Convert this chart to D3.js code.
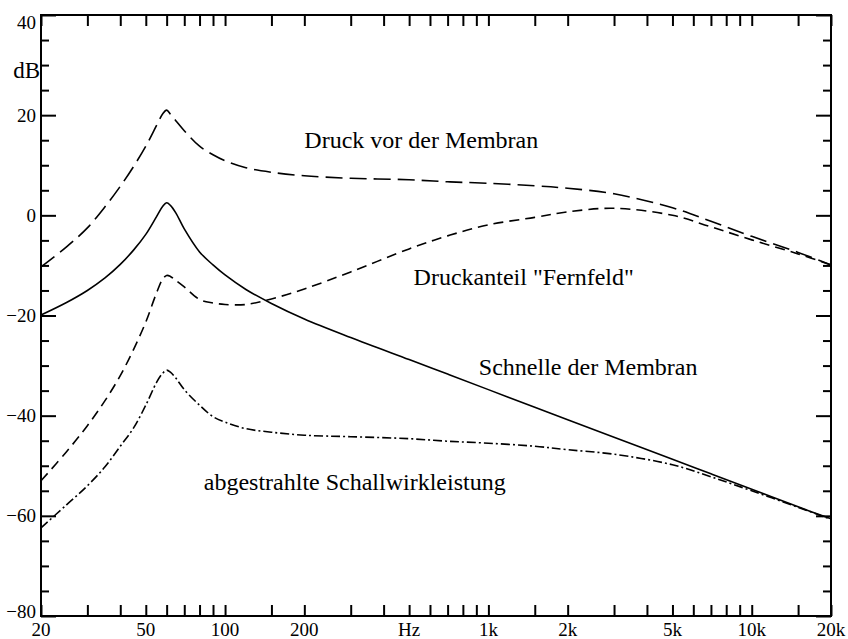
<!DOCTYPE html>
<html>
<head>
<meta charset="utf-8">
<script src="https://cdn.jsdelivr.net/npm/d3@7"></script>
<style>
  html, body { margin: 0; padding: 0; background: #fff; }
  svg { display: block; }
  text { font-family: "Liberation Serif", "Times New Roman", Times, serif; fill: #000; }
</style>
</head>
<body>
<svg id="chart" width="848" height="639"></svg>
<script>
// Frequency grid (Hz) shared by all four curves
const freqs = [20, 25, 30, 35, 40, 45, 50, 55, 58, 60, 62, 65, 70, 80, 90, 100, 120, 150, 200,
               300, 500, 700, 1000, 1500, 2000, 3000, 5000, 7000, 10000, 15000, 20000];

// Levels in dB
const druckVorMembran = [-10.3, -6.3, -2.5, 1.7, 5.8, 9.8, 13.8, 18.0, 20.3, 21.0, 20.2, 18.9, 16.9, 13.8,
                         12.1, 10.9, 9.5, 8.6, 7.9, 7.4, 7.1, 6.7, 6.4, 5.9, 5.4, 4.3, 1.5, -1.2, -4.2, -7.4, -9.9];
const druckanteilFernfeld = [-53.0, -47.2, -42.0, -37.0, -32.0, -26.7, -21.3, -15.4, -12.7, -12.0, -12.2, -13.0,
                             -14.3, -16.8, -17.5, -17.8, -17.8, -16.7, -14.7, -11.3, -6.7, -4.1, -1.9, -0.4, 0.7,
                             1.4, 0.0, -2.3, -4.9, -7.7, -9.9];
const schnelleMembran = [-19.9, -17.4, -15.0, -12.5, -9.8, -6.9, -3.8, -0.2, 1.8, 2.5, 2.0, 0.5, -2.7, -7.3,
                         -9.9, -11.9, -14.8, -17.6, -20.7, -24.4, -28.8, -31.7, -34.8, -38.3, -40.8, -44.3,
                         -48.7, -51.6, -54.7, -58.2, -60.6];
const schallwirkleistung = [-62.4, -57.8, -54.0, -50.2, -46.1, -42.4, -37.9, -33.3, -31.5, -30.9, -31.3, -32.5,
                            -34.8, -37.9, -40.2, -41.3, -42.6, -43.3, -43.9, -44.2, -44.6, -45.1, -45.5, -46.1,
                            -46.8, -47.7, -49.8, -52.2, -55.0, -58.3, -60.7];

const seriesNames = ["Druck vor der Membran", "Druckanteil \"Fernfeld\"", "Schnelle der Membran",
                     "abgestrahlte Schallwirkleistung"];

// Axis ticks and labels
const xTicks = [20, 30, 40, 50, 60, 70, 80, 90, 100, 150, 200, 300, 400, 500, 600, 700, 800, 900, 1000,
                1500, 2000, 3000, 4000, 5000, 6000, 7000, 8000, 9000, 10000, 15000, 20000];
const xLabelValues = [20, 50, 100, 200, 500, 1000, 2000, 5000, 10000, 20000];
const xTickLabels = ["20", "50", "100", "200", "Hz", "1k", "2k", "5k", "10k", "20k"];
const yMajorTicks = [40, 20, 0, -20, -40, -60, -80];
const yTickLabels = ["40", "20", "0", "\u221220", "\u221240", "\u221260", "\u221280"];
const yMinorTicks = [35, 30, 25, 15, 10, 5, -5, -10, -15, -25, -30, -35, -45, -50, -55, -65, -70, -75];
const yUnit = "dB";

// ---- layout ----
const plot = { left: 41, right: 831, top: 15, bottom: 616 };
const svg = d3.select("#chart");

const x = d3.scaleLog().domain([20, 20000]).range([plot.left, plot.right]);
const y = d3.scaleLinear().domain([-80, 40]).range([plot.bottom, plot.top]);

// axes: ticks point inwards on all four sides
function styleAxis(g) {
  g.select(".domain").remove();
  g.selectAll(".tick line").attr("stroke", "#000").attr("stroke-width", 2);
  g.selectAll(".tick text").remove();
}
svg.append("g").attr("transform", `translate(0,${plot.bottom})`)
  .call(d3.axisBottom(x).tickValues(xTicks).tickSize(-11).tickSizeOuter(0)).call(styleAxis);
svg.append("g").attr("transform", `translate(0,${plot.top})`)
  .call(d3.axisTop(x).tickValues(xTicks).tickSize(-11).tickSizeOuter(0)).call(styleAxis);
svg.append("g").attr("transform", `translate(${plot.left},0)`)
  .call(d3.axisLeft(y).tickValues(yMajorTicks).tickSize(-15).tickSizeOuter(0)).call(styleAxis);
svg.append("g").attr("transform", `translate(${plot.left},0)`)
  .call(d3.axisLeft(y).tickValues(yMinorTicks).tickSize(-8).tickSizeOuter(0)).call(styleAxis);
svg.append("g").attr("transform", `translate(${plot.right},0)`)
  .call(d3.axisRight(y).tickValues(yMajorTicks).tickSize(-15).tickSizeOuter(0)).call(styleAxis);
svg.append("g").attr("transform", `translate(${plot.right},0)`)
  .call(d3.axisRight(y).tickValues(yMinorTicks).tickSize(-8).tickSizeOuter(0)).call(styleAxis);

// frame
svg.append("rect")
  .attr("x", plot.left).attr("y", plot.top)
  .attr("width", plot.right - plot.left).attr("height", plot.bottom - plot.top)
  .attr("fill", "none").attr("stroke", "#000").attr("stroke-width", 2);

// tick labels
svg.append("g").selectAll("text").data(xLabelValues).join("text")
  .attr("x", d => x(d)).attr("y", 636)
  .attr("text-anchor", "middle").attr("font-size", 19)
  .text((d, i) => xTickLabels[i]);

svg.append("g").selectAll("text").data(yMajorTicks).join("text")
  .attr("x", 36)
  .attr("y", d => Math.min(Math.max(y(d), 22), 611))
  .attr("dy", "0.35em")
  .attr("text-anchor", "end").attr("font-size", 19)
  .text((d, i) => yTickLabels[i]);

svg.append("text")
  .attr("x", 40).attr("y", 78)
  .attr("text-anchor", "end").attr("font-size", 23)
  .text(yUnit);

// curves
const line = d3.line()
  .x((d, i) => x(freqs[i]))
  .y(d => y(d))
  .curve(d3.curveCatmullRom.alpha(0.5));

const curves = [
  { values: druckVorMembran,     dash: "17,7" },
  { values: druckanteilFernfeld, dash: "10,6" },
  { values: schnelleMembran,     dash: null },
  { values: schallwirkleistung,  dash: "9,3,2,3" }
];

svg.append("g").selectAll("path").data(curves).join("path")
  .attr("d", d => line(d.values))
  .attr("fill", "none")
  .attr("stroke", "#000")
  .attr("stroke-width", 1.6)
  .attr("stroke-dasharray", d => d.dash);

// curve captions, anchored in data coordinates (Hz, dB)
const captionAnchors = [[200, 13.5], [520, -13.9], [920, -31.9], [83, -54.8]];
svg.append("g").selectAll("text").data(seriesNames).join("text")
  .attr("x", (d, i) => x(captionAnchors[i][0]))
  .attr("y", (d, i) => y(captionAnchors[i][1]))
  .attr("font-size", 24)
  .text(d => d);
</script>
</body>
</html>
